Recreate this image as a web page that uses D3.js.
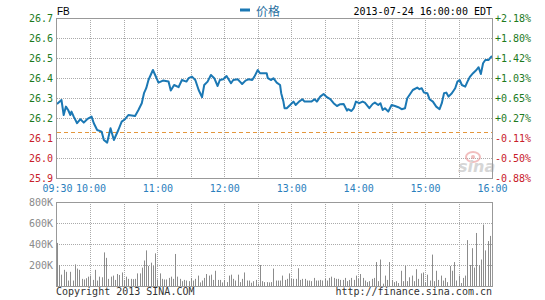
<!DOCTYPE html>
<html>
<head>
<meta charset="utf-8">
<script src="https://cdn.jsdelivr.net/npm/d3@7"></script>
<style>
body { margin: 0; background: #fff; }
svg { display: block; }
.mono { font-family: "DejaVu Sans Mono", monospace; font-size: 10px; }
</style>
</head>
<body>
<svg id="vis" width="545" height="300"></svg>
<script>
// chart data
var symbol = "FB";
var legendName = "价格";
var stamp = "2013-07-24 16:00:00 EDT";
var prevClose = 26.13;

var priceTicks = [25.9, 26.0, 26.1, 26.2, 26.3, 26.4, 26.5, 26.6, 26.7];
var pctLabels = ["-0.88%", "-0.50%", "-0.11%", "+0.27%", "+0.65%", "+1.03%", "+1.42%", "+1.80%", "+2.18%"];
var timeLabels = ["09:30", "10:00", "11:00", "12:00", "13:00", "14:00", "15:00", "16:00"];
var gridTimes = ["10:00", "10:30", "11:00", "11:30", "12:00", "12:30", "13:00", "13:30", "14:00", "14:30", "15:00", "15:30"];
var volTicks = [200, 400, 600, 800];

var times = [
	"09:30","09:34","09:36","09:38","09:40","09:42","09:43","09:45","09:48","09:51",
	"09:54","09:57","10:01","10:03","10:06","10:10","10:12","10:15","10:18","10:21",
	"10:25","10:28","10:31","10:34","10:40","10:43","10:46","10:48","10:50","10:52",
	"10:56","10:58","11:01","11:05","11:10","11:12","11:15","11:19","11:22","11:26",
	"11:28","11:31","11:34","11:37","11:40","11:42","11:45","11:48","11:51","11:54",
	"11:56","11:59","12:02","12:06","12:08","12:12","12:14","12:16","12:19","12:22",
	"12:25","12:27","12:30","12:32","12:38","12:39","12:42","12:44","12:47","12:50",
	"12:51","12:53","12:54","12:56","12:59","13:02","13:04","13:07","13:10","13:12",
	"13:18","13:21","13:23","13:26","13:29","13:32","13:35","13:38","13:41","13:44",
	"13:47","13:50","13:51","13:54","13:56","13:58","14:01","14:04","14:06","14:10",
	"14:13","14:15","14:18","14:20","14:22","14:24","14:27","14:30","14:33","14:36",
	"14:39","14:42","14:44","14:46","14:49","14:53","14:55","14:57","14:59","15:02",
	"15:04","15:07","15:10","15:13","15:15","15:17","15:19","15:21","15:24","15:27",
	"15:29","15:31","15:33","15:36","15:38","15:40","15:43","15:46","15:48","15:50",
	"15:52","15:54","15:57","15:58","16:00"
];

var prices = [
	26.27,26.29,26.215,26.257,26.24,26.215,26.232,26.207,26.174,26.194,
	26.177,26.194,26.207,26.174,26.14,26.132,26.09,26.077,26.149,26.09,
	26.14,26.182,26.194,26.215,26.21,26.24,26.274,26.324,26.349,26.39,
	26.44,26.415,26.377,26.387,26.382,26.337,26.365,26.354,26.39,26.382,
	26.399,26.407,26.39,26.34,26.304,26.365,26.382,26.415,26.399,26.36,
	26.39,26.394,26.41,26.374,26.39,26.394,26.382,26.37,26.387,26.394,
	26.39,26.407,26.44,26.424,26.424,26.399,26.39,26.399,26.377,26.365,
	26.324,26.282,26.249,26.249,26.265,26.282,26.265,26.282,26.294,26.282,
	26.282,26.294,26.282,26.307,26.32,26.304,26.294,26.274,26.26,26.269,
	26.27,26.237,26.244,26.235,26.249,26.282,26.274,26.282,26.277,26.249,
	26.27,26.277,26.265,26.274,26.24,26.249,26.232,26.265,26.26,26.254,
	26.244,26.249,26.299,26.315,26.34,26.352,26.344,26.349,26.327,26.324,
	26.294,26.282,26.257,26.244,26.274,26.324,26.327,26.307,26.324,26.349,
	26.382,26.39,26.365,26.357,26.382,26.404,26.424,26.44,26.454,26.42,
	26.474,26.49,26.49,26.498,26.51
];

// volume in thousands, one bar every 2 minutes from the open
var volStart = "09:30";
var volStep = 2;
var volumes = [
	410,200,108,154,135,52,135,52,206,166,154,68,62,74,89,99,58,154,52,89,
	83,320,268,68,89,99,58,114,105,129,58,89,68,68,65,68,120,120,175,243,
	339,191,222,191,311,62,120,68,62,62,77,89,68,305,89,
	68,46,58,52,46,77,52,68,99,34,52,77,114,99,108,58,145,58,58,34,
	58,37,99,108,68,52,108,37,68,129,52,52,31,46,58,22,200,46,37,37,
	34,37,166,52,52,52,99,58,68,120,68,68,68,169,58,68,68,52,52,46,
	77,52,52,58,52,68,52,77,89,77,68,68,58,58,77,46,58,77,58,99,68,
	114,77,52,37,46,68,77,228,46,252,22,99,58,228,58,37,46,28,145,46,
	191,46,83,99,46,160,68,120,129,37,108,52,299,46,145,58,99,52,77,37,
	191,145,228,52,99,28,77,99,437,200,360,175,505,200,252,585,339,428,477
];

var blue = "#1b78b4";
var green = "#1d7a1d";
var red = "#c8202a";
var frame = "#999";

var left = 57, right = 492;
var pTop = 18, pBottom = 178;
var vTop = 202, vBottom = 286;

var parse = d3.timeParse("%H:%M");
var svg = d3.select("#vis");

var x = d3.scaleTime().domain([parse("09:30"), parse("16:00")]).range([left, right]);
var y = d3.scaleLinear().domain([25.9, 26.7]).range([pBottom, pTop]);
var yv = d3.scaleLinear().domain([0, 800]).range([vBottom, vTop]);

// grids
function vGrid(top, bottom)
{
	svg.append("g").selectAll("line")
		.data(gridTimes)
		.enter().append("line")
		.attr("x1", function(d) { return Math.round(x(parse(d))) + 0.5; })
		.attr("x2", function(d) { return Math.round(x(parse(d))) + 0.5; })
		.attr("y1", top).attr("y2", bottom)
		.attr("stroke", "#aaa").attr("stroke-dasharray", "1,1");
}
vGrid(pTop, pBottom);
vGrid(vTop, vBottom);

svg.append("g").selectAll("line")
	.data(priceTicks.slice(1, -1))
	.enter().append("line")
	.attr("x1", left).attr("x2", right)
	.attr("y1", function(d) { return Math.round(y(d)) + 0.5; })
	.attr("y2", function(d) { return Math.round(y(d)) + 0.5; })
	.attr("stroke", "#aaa").attr("stroke-dasharray", "1,1");

svg.append("g").selectAll("line")
	.data(volTicks.slice(0, -1))
	.enter().append("line")
	.attr("x1", left).attr("x2", right)
	.attr("y1", function(d) { return Math.round(yv(d)) + 0.5; })
	.attr("y2", function(d) { return Math.round(yv(d)) + 0.5; })
	.attr("stroke", "#aaa").attr("stroke-dasharray", "1,1");

// watermark
var wm = svg.append("g").attr("opacity", 0.55);
wm.append("ellipse").attr("cx", 473).attr("cy", 157).attr("rx", 7).attr("ry", 5)
	.attr("fill", "none").attr("stroke", "#e88a8a").attr("stroke-width", 2);
wm.append("circle").attr("cx", 473).attr("cy", 157).attr("r", 2).attr("fill", "#e88a8a");
wm.append("text").attr("x", 458).attr("y", 172)
	.style("font-family", "DejaVu Sans").style("font-size", "16px")
	.style("font-style", "italic").style("font-weight", "bold")
	.attr("fill", "#b5b5b5").text("sina");

// previous close
svg.append("line")
	.attr("x1", left).attr("x2", right)
	.attr("y1", Math.round(y(prevClose)) + 0.5).attr("y2", Math.round(y(prevClose)) + 0.5)
	.attr("stroke", "#e4973c").attr("stroke-width", 1.2).attr("stroke-dasharray", "4,3");

// volume bars
var t0 = parse(volStart);
svg.append("g").selectAll("line")
	.data(volumes)
	.enter().append("line")
	.attr("x1", function(d, i) { return Math.round(x(d3.timeMinute.offset(t0, i * volStep))) + 0.5; })
	.attr("x2", function(d, i) { return Math.round(x(d3.timeMinute.offset(t0, i * volStep))) + 0.5; })
	.attr("y1", yv(0))
	.attr("y2", function(d) { return yv(d); })
	.attr("stroke", "#8c8c8c").attr("stroke-width", 1);

// price line
var series = times.map(function(t, i) { return {t: parse(t), p: prices[i]}; });
var lineGen = d3.line()
	.x(function(d) { return x(d.t); })
	.y(function(d) { return y(d.p); });
svg.append("path").datum(series)
	.attr("d", lineGen)
	.attr("fill", "none").attr("stroke", blue).attr("stroke-width", 2)
	.attr("stroke-linejoin", "round");

// frames
svg.append("rect").attr("x", left - 0.5).attr("y", pTop + 0.5)
	.attr("width", right - left + 1).attr("height", pBottom - pTop)
	.attr("fill", "none").attr("stroke", frame);
svg.append("rect").attr("x", left - 0.5).attr("y", vTop + 0.5)
	.attr("width", right - left + 1).attr("height", vBottom - vTop)
	.attr("fill", "none").attr("stroke", frame);

// axes
var yAxis = svg.append("g").attr("class", "mono")
	.attr("transform", "translate(" + left + ",0)")
	.call(d3.axisLeft(y).tickValues(priceTicks).tickSize(0).tickPadding(4).tickFormat(d3.format(".1f")));
yAxis.select(".domain").remove();
yAxis.selectAll("text")
	.style("font-family", "DejaVu Sans Mono").style("font-size", "10px")
	.attr("fill", function(d) { return d >= prevClose ? green : red; });

var y2Axis = svg.append("g").attr("class", "mono")
	.attr("transform", "translate(" + right + ",0)")
	.call(d3.axisRight(y).tickValues(priceTicks).tickSize(0).tickPadding(3)
		.tickFormat(function(d, i) { return pctLabels[i]; }));
y2Axis.select(".domain").remove();
y2Axis.selectAll("text")
	.style("font-family", "DejaVu Sans Mono").style("font-size", "10px")
	.attr("fill", function(d) { return d >= prevClose ? green : red; });

var xAxis = svg.append("g")
	.attr("transform", "translate(0," + pBottom + ")")
	.call(d3.axisBottom(x).tickValues(timeLabels.map(parse)).tickSize(0).tickPadding(7)
		.tickFormat(d3.timeFormat("%H:%M")));
xAxis.select(".domain").remove();
xAxis.selectAll("text")
	.style("font-family", "DejaVu Sans Mono").style("font-size", "10px")
	.attr("fill", "#2a80bd");

var vAxis = svg.append("g")
	.attr("transform", "translate(" + left + ",0)")
	.call(d3.axisLeft(yv).tickValues(volTicks).tickSize(0).tickPadding(4)
		.tickFormat(function(d) { return d + "K"; }));
vAxis.select(".domain").remove();
vAxis.selectAll("text")
	.style("font-family", "DejaVu Sans Mono").style("font-size", "10px")
	.attr("fill", "#8a8a8a");

// header
svg.append("text").attr("x", left).attr("y", 15)
	.style("font-family", "Liberation Sans").style("font-size", "10px")
	.attr("fill", "#000").text(symbol);

svg.append("line").attr("x1", 240).attr("x2", 250).attr("y1", 10).attr("y2", 10)
	.attr("stroke", blue).attr("stroke-width", 3);
svg.append("text").attr("x", 256).attr("y", 16)
	.style("font-family", "Noto Sans CJK SC").style("font-size", "12px")
	.attr("fill", "#2a6fa0").text(legendName);

svg.append("text").attr("x", right).attr("y", 15).attr("text-anchor", "end")
	.attr("class", "mono").attr("fill", "#000").text(stamp);

// footer
svg.append("text").attr("x", left - 1).attr("y", 295)
	.attr("class", "mono").attr("fill", "#333").text("Copyright 2013 SINA.COM");
svg.append("text").attr("x", right).attr("y", 295).attr("text-anchor", "end")
	.attr("class", "mono").attr("fill", "#333").text("http://finance.sina.com.cn");
</script>
</body>
</html>
